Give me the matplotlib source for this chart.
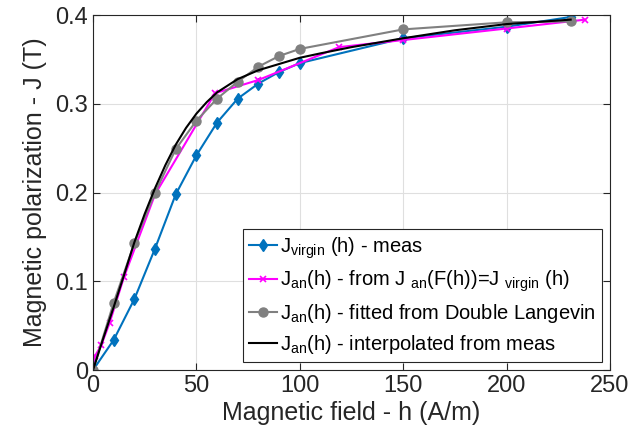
import numpy as np
import matplotlib
matplotlib.use('Agg')
import matplotlib.pyplot as plt

plt.rcParams['font.family'] = ['Liberation Sans', 'DejaVu Sans']
plt.rcParams['mathtext.fontset'] = 'custom'
plt.rcParams['mathtext.rm'] = 'Liberation Sans'
plt.rcParams['mathtext.it'] = 'Liberation Sans'
plt.rcParams['mathtext.default'] = 'rm'

# measured virgin curve
h_virgin = [0, 10, 20, 30, 40, 50, 60, 70, 80, 90, 100, 150, 200, 231]
J_virgin = [0, 0.034, 0.080, 0.137, 0.198, 0.242, 0.279, 0.306, 0.323, 0.336,
            0.346, 0.374, 0.387, 0.398]

# anhysteretic from J_an(F(h)) = J_virgin(h)
h_fromF = [0, 1, 4, 8, 15, 30, 59, 80, 119, 150, 200, 238]
J_fromF = [0, 0.016, 0.028, 0.053, 0.105, 0.198, 0.312, 0.327, 0.364, 0.372,
           0.385, 0.395]

# double Langevin fit
h_fit = [0, 10, 20, 30, 40, 50, 60, 70, 80, 90, 100, 150, 200, 231]
J_fit = [0, 0.076, 0.143, 0.200, 0.249, 0.281, 0.306, 0.325, 0.342, 0.354,
         0.362, 0.384, 0.392, 0.393]

# interpolated from measurements
h_interp = [0, 5, 10, 15, 20, 25, 30, 35, 40, 45, 50, 55, 60, 70, 80, 90,
            100, 110, 125, 150, 175, 200, 231]
J_interp = [0, 0.036, 0.071, 0.107, 0.144, 0.176, 0.205, 0.231, 0.254, 0.273,
            0.289, 0.302, 0.313, 0.328, 0.338, 0.345, 0.352, 0.357, 0.364,
            0.374, 0.383, 0.390, 0.395]

fig = plt.figure(figsize=(6.3, 4.47), dpi=100)
ax = fig.add_axes([0.1476, 0.172, 0.8206, 0.794])

ax.plot(h_virgin, J_virgin, '-d', color='#0072BD', lw=1.5, ms=6.5,
        label=r'J$_{virgin}$ (h) - meas')
ax.plot(h_fromF, J_fromF, '-x', color='#FF00FF', lw=1.5, ms=4, mew=1.2,
        label=r'J$_{an}$(h) - from J $_{an}$(F(h))=J $_{virgin}$ (h)')
ax.plot(h_fit, J_fit, '-o', color='#808080', lw=1.5, ms=6.5,
        label=r'J$_{an}$(h) - fitted from Double Langevin')
ax.plot(h_interp, J_interp, '-', color='black', lw=1.5,
        label=r'J$_{an}$(h) - interpolated from meas')

ax.set_xlim(0, 250)
ax.set_ylim(0, 0.4)
ax.set_xticks([0, 50, 100, 150, 200, 250])
ax.set_yticks([0, 0.1, 0.2, 0.3, 0.4])
ax.set_yticklabels(['0', '0.1', '0.2', '0.3', '0.4'])
ax.grid(True, color='#dfdfdf', lw=0.8)
ax.set_axisbelow(True)
ax.tick_params(direction='in', top=True, right=True, labelsize=17,
               colors='#262626', length=5)
for s in ax.spines.values():
    s.set_color('#262626')
    s.set_linewidth(0.8)

ax.set_xlabel('Magnetic field - h (A/m)', fontsize=18, color='#262626', labelpad=3)
ax.set_ylabel('Magnetic polarization - J (T)', fontsize=18, color='#262626', labelpad=6)

leg = ax.legend(loc='lower right', bbox_to_anchor=(0.985, 0.022), fontsize=14.5,
                fancybox=False, framealpha=1, edgecolor='#262626',
                handlelength=1.4, handletextpad=0.15, borderpad=0.3,
                labelspacing=0.4, borderaxespad=0)
leg.get_frame().set_linewidth(0.8)

fig.savefig('out.png', dpi=100)
